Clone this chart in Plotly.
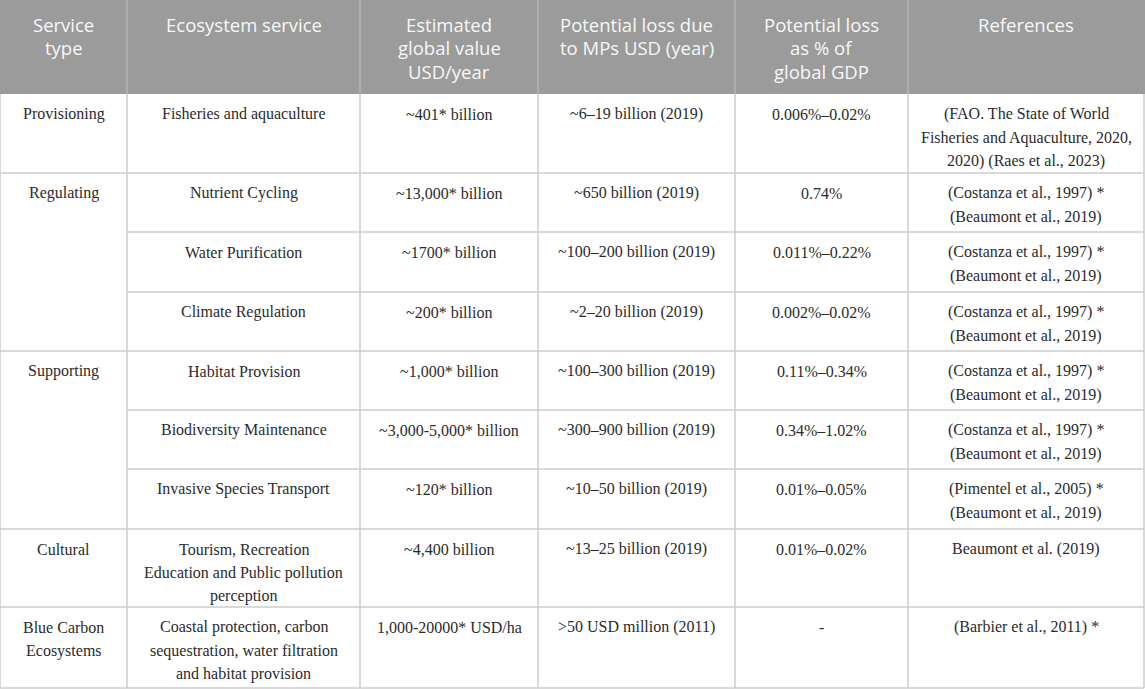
import plotly.graph_objects as go

# ---------------- data ----------------
headers = ["Service<br>type", "Ecosystem service", "Estimated<br>global value<br>USD/year",
           "Potential loss due<br>to MPs USD (year)", "Potential loss<br>as % of<br>global GDP", "References"]
service_types = ["Provisioning", "Regulating", "Supporting", "Cultural", "Blue Carbon<br>Ecosystems"]
type_spans = [1, 3, 3, 1, 1]
ecosystem_services = ["Fisheries and aquaculture", "Nutrient Cycling", "Water Purification",
                      "Climate Regulation", "Habitat Provision", "Biodiversity Maintenance",
                      "Invasive Species Transport",
                      "Tourism, Recreation<br>Education and Public pollution<br>perception",
                      "Coastal protection, carbon<br>sequestration, water filtration<br>and habitat provision"]
global_values = ["~401* billion", "~13,000* billion", "~1700* billion", "~200* billion",
                 "~1,000* billion", "~3,000-5,000* billion", "~120* billion", "~4,400 billion",
                 "1,000-20000* USD/ha"]
potential_loss = ["~6–19 billion (2019)", "~650 billion (2019)", "~100–200 billion (2019)",
                  "~2–20 billion (2019)", "~100–300 billion (2019)", "~300–900 billion (2019)",
                  "~10–50 billion (2019)", "~13–25 billion (2019)", ">50 USD million (2011)"]
gdp_share = ["0.006%–0.02%", "0.74%", "0.011%–0.22%", "0.002%–0.02%", "0.11%–0.34%",
             "0.34%–1.02%", "0.01%–0.05%", "0.01%–0.02%", "-"]
references = ["(FAO. The State of World<br>Fisheries and Aquaculture, 2020,<br>2020) (Raes et al., 2023)",
              "(Costanza et al., 1997) *<br>(Beaumont et al., 2019)",
              "(Costanza et al., 1997) *<br>(Beaumont et al., 2019)",
              "(Costanza et al., 1997) *<br>(Beaumont et al., 2019)",
              "(Costanza et al., 1997) *<br>(Beaumont et al., 2019)",
              "(Costanza et al., 1997) *<br>(Beaumont et al., 2019)",
              "(Pimentel et al., 2005) *<br>(Beaumont et al., 2019)",
              "Beaumont et al. (2019)",
              "(Barbier et al., 2011) *"]

# ---------------- layout (geometry / style) ----------------
W, H = 1145, 689
col_edges = [0, 127, 360, 538, 735, 908, 1144]
header_h = 94
row_heights = [79, 59, 60, 59, 59, 59, 60, 78, 81]
line_h = 23.5
first_off = 20
hdr_first_off = 24
grid_col = "#cccccc"
hdr_fill = "#9b9b9b"
hdr_div = "#b4b4b4"
hdr_font = dict(family="Open Sans", size=18.5, color="#f7f7f7")
body_font = dict(family="Liberation Serif", size=16, color="#2b2b2b")

row_tops = [header_h]
for h in row_heights:
    row_tops.append(row_tops[-1] + h)

fig = go.Figure()
fig.add_trace(go.Scatter(x=[0, W], y=[0, H], mode="markers", marker=dict(opacity=0),
                         hoverinfo="skip", showlegend=False))

shapes = []
annotations = []

def add_text(text, x0, x1, top, font, first):
    lines = text.split("<br>")
    cx = (x0 + x1) / 2
    for i, ln in enumerate(lines):
        annotations.append(dict(x=cx, y=top + first + i * line_h, xref="x", yref="y",
                                text=ln, showarrow=False, xanchor="center", yanchor="middle",
                                font=font))

# header
shapes.append(dict(type="rect", xref="x", yref="y", x0=0, x1=W, y0=0, y1=header_h,
                   fillcolor=hdr_fill, line=dict(width=0), layer="below"))
for xe in col_edges[1:-1]:
    shapes.append(dict(type="line", xref="x", yref="y", x0=xe, x1=xe, y0=0, y1=header_h,
                       line=dict(color=hdr_div, width=1.5)))
for c, htxt in enumerate(headers):
    add_text(htxt, col_edges[c], col_edges[c + 1], 0, hdr_font, hdr_first_off)

# body cells
columns = [ecosystem_services, global_values, potential_loss, gdp_share, references]
for r in range(len(ecosystem_services)):
    for c, col in enumerate(columns, start=1):
        add_text(col[r], col_edges[c], col_edges[c + 1], row_tops[r], body_font, first_off)

# service type (merged cells)
r = 0
group_starts = []
for st, span in zip(service_types, type_spans):
    group_starts.append(r)
    add_text(st, col_edges[0], col_edges[1], row_tops[r], body_font, first_off)
    r += span

# horizontal lines
for i in range(1, len(row_tops)):
    y = row_tops[i]
    start = col_edges[0] if (i in group_starts or i == len(row_tops) - 1) else col_edges[1]
    shapes.append(dict(type="line", xref="x", yref="y", x0=start, x1=col_edges[-1], y0=y, y1=y,
                       line=dict(color=grid_col, width=1.5)))
# vertical lines
for xe in col_edges:
    shapes.append(dict(type="line", xref="x", yref="y", x0=xe, x1=xe, y0=header_h, y1=row_tops[-1],
                       line=dict(color=grid_col, width=1.5)))

fig.update_layout(
    width=W, height=H, margin=dict(l=0, r=0, t=0, b=0),
    paper_bgcolor="white", plot_bgcolor="white",
    xaxis=dict(range=[0, W], visible=False, fixedrange=True),
    yaxis=dict(range=[H, 0], visible=False, fixedrange=True),
    shapes=shapes, annotations=annotations, showlegend=False,
)

fig.write_html("out.html", config={"displayModeBar": False},
               post_script="document.body.style.margin='0';document.body.style.overflow='hidden';")
